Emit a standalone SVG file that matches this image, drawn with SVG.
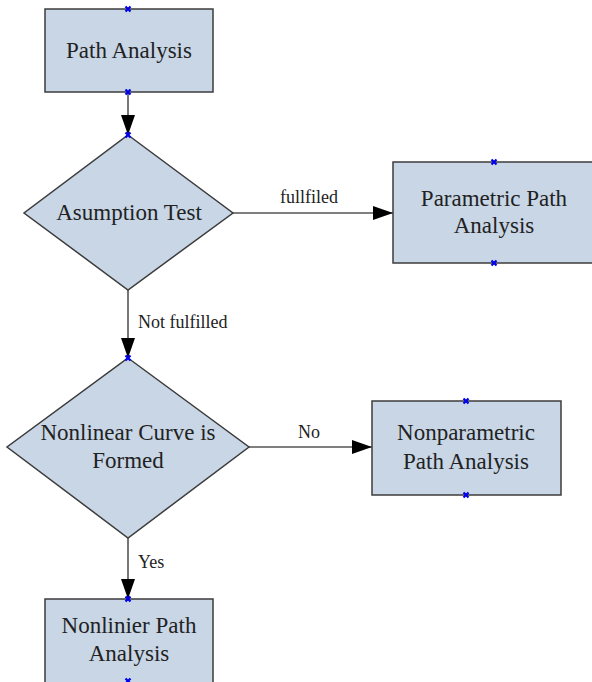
<svg xmlns="http://www.w3.org/2000/svg" width="592" height="682" viewBox="0 0 592 682">
<defs>
<style>
.node{fill:#c8d6e6;stroke:#3c3c3c;stroke-width:1.5}
.t{font-family:"Liberation Serif","Times New Roman",serif;font-size:23px;fill:#222;text-anchor:middle}
.lbl{font-family:"Liberation Serif","Times New Roman",serif;font-size:18px;fill:#222}
.edge{stroke:#555;stroke-width:1.6;fill:none}
.pin{stroke:#0000ee;stroke-width:2.2;fill:none}
</style>
<marker id="arr" markerWidth="20" markerHeight="14" refX="20" refY="7" orient="auto" markerUnits="userSpaceOnUse">
<path d="M0,0 L20,7 L0,14 Z" fill="#000"/>
</marker>
<path id="x" d="M-2.5,-2.5 L2.5,2.5 M-2.5,2.5 L2.5,-2.5"/>
</defs>
<rect width="592" height="682" fill="#fff"/>
<g id="connectors">
<line class="edge" x1="128" y1="92" x2="128" y2="135" marker-end="url(#arr)"/>
<line class="edge" x1="233" y1="213" x2="393" y2="213" marker-end="url(#arr)"/>
<text class="lbl" x="309" y="203" text-anchor="middle">fullfiled</text>
<line class="edge" x1="128" y1="290" x2="128" y2="358" marker-end="url(#arr)"/>
<text class="lbl" x="138" y="328">Not fulfilled</text>
<line class="edge" x1="249" y1="447" x2="372" y2="447" marker-end="url(#arr)"/>
<text class="lbl" x="309" y="438" text-anchor="middle">No</text>
<line class="edge" x1="128" y1="538" x2="128" y2="599" marker-end="url(#arr)"/>
<text class="lbl" x="138" y="568">Yes</text>
</g>
<g id="n1">
<rect class="node" x="45" y="9" width="168" height="83"/>
<text class="t" x="129" y="58">Path Analysis</text>
<use href="#x" class="pin" x="128" y="9"/>
<use href="#x" class="pin" x="128" y="92"/>
</g>
<g id="n2">
<polygon class="node" points="128,135 233,213 128,290 24,213"/>
<text class="t" x="129" y="220">Asumption Test</text>
<use href="#x" class="pin" x="128" y="135"/>
</g>
<g id="n3">
<rect class="node" x="393" y="162" width="205" height="101"/>
<text class="t" x="494" y="206">Parametric Path</text>
<text class="t" x="494" y="233">Analysis</text>
<use href="#x" class="pin" x="494" y="162"/>
<use href="#x" class="pin" x="494" y="263"/>
</g>
<g id="n4">
<polygon class="node" points="128,358 249,447 128,538 7,447"/>
<text class="t" x="128" y="440">Nonlinear Curve is</text>
<text class="t" x="128" y="468">Formed</text>
<use href="#x" class="pin" x="128" y="358"/>
</g>
<g id="n5">
<rect class="node" x="372" y="401" width="189" height="94"/>
<text class="t" x="466" y="440">Nonparametric</text>
<text class="t" x="466" y="469">Path Analysis</text>
<use href="#x" class="pin" x="466" y="401"/>
<use href="#x" class="pin" x="466" y="495"/>
</g>
<g id="n6">
<rect class="node" x="45" y="599" width="168" height="90"/>
<text class="t" x="129" y="633">Nonlinier Path</text>
<text class="t" x="129" y="661">Analysis</text>
<use href="#x" class="pin" x="128" y="599"/>
<use href="#x" class="pin" x="128" y="681"/>
</g>
</svg>
